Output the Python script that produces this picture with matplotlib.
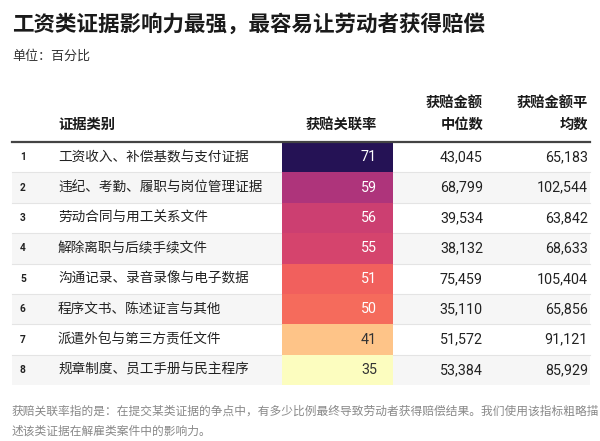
import matplotlib
matplotlib.use("Agg")
import matplotlib.pyplot as plt
from matplotlib.patches import Rectangle
import numpy as np

plt.rcParams['font.family'] = ['Roboto', 'Noto Sans CJK SC', 'DejaVu Sans']

title = "工资类证据影响力最强，最容易让劳动者获得赔偿"
subtitle = "单位：百分比"
col_headers = ["证据类别", "获赔关联率", "获赔金额\n中位数", "获赔金额平\n均数"]
categories = [
    "工资收入、补偿基数与支付证据",
    "违纪、考勤、履职与岗位管理证据",
    "劳动合同与用工关系文件",
    "解除离职与后续手续文件",
    "沟通记录、录音录像与电子数据",
    "程序文书、陈述证言与其他",
    "派遣外包与第三方责任文件",
    "规章制度、员工手册与民主程序",
]
rate = [71, 59, 56, 55, 51, 50, 41, 35]
median_amt = [43045, 68799, 39534, 38132, 75459, 35110, 51572, 53384]
mean_amt = [65183, 102544, 63842, 68633, 105404, 65856, 91121, 85929]
footnote = ["获赔关联率指的是：在提交某类证据的争点中，有多少比例最终导致劳动者获得赔偿结果。我们使用该指标粗略描",
            "述该类证据在解雇类案件中的影响力。"]

W, H = 600, 441
fig = plt.figure(figsize=(W / 100, H / 100), dpi=100)
ax = fig.add_axes([0, 0, 1, 1])
ax.set_xlim(0, W)
ax.set_ylim(H, 0)
ax.axis('off')

# title & subtitle
ax.text(12, 25, title, fontsize=15.5, fontweight='bold', color='#1a1a1a', va='center', ha='left')
ax.text(12, 56, subtitle, fontsize=9.4, color='#333333', va='center', ha='left')

# layout
left, right = 12, 590
heat_l, heat_r = 282, 393
top = 142
row_h = 30.4
x_idx = 20
x_cat = 58
x_rate = 377
x_med = 483
x_mean = 588

hdr_color = '#1a1a1a'
ax.text(x_cat, 125, col_headers[0], fontsize=10.3, fontweight='bold', color=hdr_color, ha='left', va='center')
ax.text(x_rate, 125, col_headers[1], fontsize=10.3, fontweight='bold', color=hdr_color, ha='right', va='center')
for xh, lab in [(x_med, col_headers[2]), (x_mean, col_headers[3])]:
    l1, l2 = lab.split("\n")
    ax.text(xh, 103, l1, fontsize=10.3, fontweight='bold', color=hdr_color, ha='right', va='center')
    ax.text(xh, 125, l2, fontsize=10.3, fontweight='bold', color=hdr_color, ha='right', va='center')

cmap = plt.get_cmap('magma')
vmin, vmax = min(rate), max(rate)

n = len(categories)
for i in range(n):
    y0 = top + i * row_h
    yc = y0 + row_h / 2
    bg = '#f6f6f6' if i % 2 == 1 else 'white'
    ax.add_patch(Rectangle((left, y0), right - left, row_h, facecolor=bg, edgecolor='none', zorder=0))
    if i > 0:
        ax.plot([left, right], [y0, y0], color='#e4e4e4', lw=0.8, zorder=1)
    v = rate[i]
    x = (vmax - v) / (vmax - vmin)
    t = 0.15 + 0.85 * x ** 0.85
    ax.add_patch(Rectangle((heat_l, y0), heat_r - heat_l, row_h, facecolor=cmap(t), edgecolor='none', zorder=2))
    tc = 'white' if t < 0.8 else '#333333'
    ax.text(x_idx, yc, str(i + 1), fontsize=7.3, fontweight='bold', color='#222222', ha='left', va='center')
    ax.text(x_cat, yc, categories[i], fontsize=9.8, color='#222222', ha='left', va='center')
    ax.text(x_rate, yc, f"{v}", fontsize=10.3, color=tc, ha='right', va='center', zorder=3)
    ax.text(x_med, yc, f"{median_amt[i]:,}", fontsize=10.3, color='#222222', ha='right', va='center')
    ax.text(x_mean, yc, f"{mean_amt[i]:,}", fontsize=10.3, color='#222222', ha='right', va='center')

ax.plot([left, right], [top - 0.5, top - 0.5], color='#444444', lw=1.6, zorder=4)

ax.text(12, 411, footnote[0], fontsize=8.45, color='#888888', style='italic', ha='left', va='center')
ax.text(12, 431, footnote[1], fontsize=8.45, color='#888888', style='italic', ha='left', va='center')

fig.savefig("out.png", dpi=100)
